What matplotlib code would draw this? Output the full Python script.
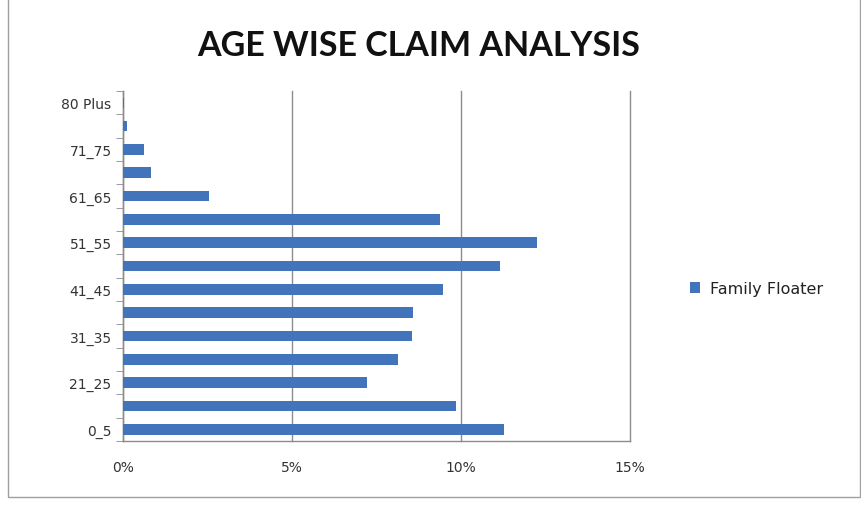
import matplotlib
matplotlib.use("Agg")
import matplotlib.pyplot as plt
from matplotlib.patches import Rectangle
from matplotlib.ticker import FuncFormatter

# Share of claims per age band (family floater policies)
AGE_BANDS = ["0_5", "6_20", "21_25", "26_30", "31_35", "36_40", "41_45", "46_50",
             "51_55", "56_60", "61_65", "66_70", "71_75", "76_80", "80 Plus"]
CLAIM_SHARE = [0.1129, 0.0985, 0.0722, 0.0813, 0.0855, 0.0860, 0.0948, 0.1116,
               0.1224, 0.0938, 0.0255, 0.0083, 0.0062, 0.0013, 0.0004]
X_TICKS = [0, 0.05, 0.10, 0.15]
SERIES = "Family Floater"

BAR = "#4174BA"
GRID = "#8C8C8C"
TICK_FONT = ["DejaVu Sans"]

plt.rcParams["font.family"] = ["Lato", "DejaVu Sans"]

fig = plt.figure(figsize=(8.61, 5.06), dpi=100)
ax = fig.add_axes([0.1425, 0.1265, 0.589, 0.6915])

ys = range(len(AGE_BANDS))
ax.barh(list(ys), CLAIM_SHARE, height=0.45, color=BAR, label=SERIES, zorder=3)

ax.set_xlim(0, 0.15)
ax.set_ylim(-0.5, len(AGE_BANDS) - 0.5)
ax.set_xticks(X_TICKS)
ax.xaxis.set_major_formatter(FuncFormatter(lambda v, _: f"{v * 100:.0f}%"))
ax.grid(axis="x", color=GRID, lw=1.0, zorder=0)
for gl in ax.get_xgridlines():
    gl.set_clip_on(False)

# labels on every other band, tick marks between bands
ax.set_yticks(list(ys)[::2])
ax.set_yticklabels(AGE_BANDS[::2])
ax.set_yticks([y - 0.5 for y in range(len(AGE_BANDS) + 1)], minor=True)
ax.tick_params(axis="y", which="major", length=0, pad=8, labelsize=10, labelcolor="#333333")
ax.tick_params(axis="y", which="minor", length=5, color=GRID, direction="out")
ax.tick_params(axis="x", length=0, pad=14, labelsize=10, labelcolor="#333333")
for lbl in ax.get_xticklabels() + ax.get_yticklabels():
    lbl.set_family(TICK_FONT)

for side in ("top", "right"):
    ax.spines[side].set_visible(False)
for side in ("left", "bottom"):
    ax.spines[side].set_color(GRID)
    ax.spines[side].set_linewidth(1.0)

fig.text(0.486, 0.91, "AGE WISE CLAIM ANALYSIS", ha="center", va="center",
         fontsize=24.5, fontweight="bold", color="#111111")

leg = ax.legend(loc="center left", bbox_to_anchor=(1.09, 0.435), frameon=False,
                prop={"family": TICK_FONT, "size": 11.5},
                handlelength=0.65, handleheight=0.65, handletextpad=0.6)
for t in leg.get_texts():
    t.set_color("#222222")

# chart border
fig.patches.append(Rectangle((0.009, 0.016), 0.99, 0.99, transform=fig.transFigure,
                             fill=False, edgecolor="#A0A0A0", lw=1.0))

fig.savefig("out.png", dpi=100)
